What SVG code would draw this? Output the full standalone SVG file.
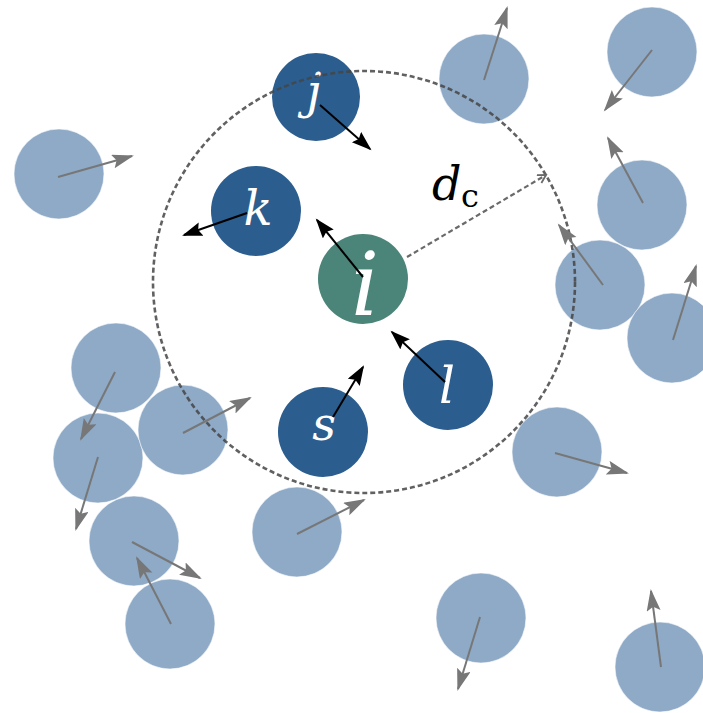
<svg xmlns="http://www.w3.org/2000/svg" width="703" height="713" viewBox="0 0 703 713">
  <style>
    .p { fill: #8eaac7; stroke: #ffffff; stroke-width: 1; stroke-opacity: 0.6; }
    .n { fill: #2b5d8e; }
    .ni { fill: #4b8479; }
    .lbl { fill: #ffffff; font-family: "DejaVu Serif", "Liberation Serif", serif; font-style: italic; text-anchor: middle; }
    .math { fill: #000000; font-family: "DejaVu Serif", "Liberation Serif", serif; }
    .ga { stroke: #777777; stroke-width: 2; fill: none; marker-end: url(#ah-gray); }
    .ka { stroke: #000000; stroke-width: 2; fill: none; marker-end: url(#ah-dark); }
    .cut { fill: none; stroke: #454545; stroke-width: 2.6; stroke-dasharray: 5 3; stroke-opacity: 0.85; }
    .rad { fill: none; stroke: #6a6a6a; stroke-width: 2.2; stroke-dasharray: 5 3; marker-end: url(#ah-open); }
  </style>
  <defs>
    <marker id="ah-dark" markerUnits="userSpaceOnUse" markerWidth="22" markerHeight="16" refX="18" refY="7" orient="auto">
      <path d="M0,0 L20,7 L0,14 L3,7 z" fill="#000000"/>
    </marker>
    <marker id="ah-gray" markerUnits="userSpaceOnUse" markerWidth="24" markerHeight="16" refX="20" refY="7" orient="auto">
      <path d="M0,0 L22,7 L0,14 L4,7 z" fill="#777777"/>
    </marker>
    <marker id="ah-open" markerUnits="userSpaceOnUse" markerWidth="12" markerHeight="12" refX="9" refY="5" orient="auto">
      <path d="M1,0.5 L9,5 L1,9.5" fill="none" stroke="#6a6a6a" stroke-width="1.8"/>
    </marker>
  </defs>

  <g id="particles">
    <g id="p1"><circle class="p" cx="484" cy="79" r="45"/></g>
    <g id="p2"><circle class="p" cx="652" cy="52" r="45"/></g>
    <g id="p3"><circle class="p" cx="642" cy="205" r="45"/></g>
    <g id="p4"><circle class="p" cx="600" cy="285" r="45"/></g>
    <g id="p5"><circle class="p" cx="672" cy="338" r="45"/></g>
    <g id="p6"><circle class="p" cx="59" cy="174" r="45"/></g>
    <g id="p7"><circle class="p" cx="116" cy="368" r="45"/></g>
    <g id="p8"><circle class="p" cx="98" cy="458" r="45"/></g>
    <g id="p9"><circle class="p" cx="183" cy="430" r="45"/></g>
    <g id="p10"><circle class="p" cx="134" cy="541" r="45"/></g>
    <g id="p11"><circle class="p" cx="170" cy="624" r="45"/></g>
    <g id="p12"><circle class="p" cx="297" cy="532" r="45"/></g>
    <g id="p13"><circle class="p" cx="557" cy="452" r="45"/></g>
    <g id="p14"><circle class="p" cx="481" cy="618" r="45"/></g>
    <g id="p15"><circle class="p" cx="660" cy="667" r="45"/></g>
  </g>

  <g id="node-j"><circle class="n" cx="316" cy="97" r="44"/><text class="lbl" x="314" y="108" font-size="48">j</text></g>
  <g id="node-k"><circle class="n" cx="256" cy="211" r="45"/><text class="lbl" x="258" y="225" font-size="48">k</text></g>
  <g id="node-i"><circle class="ni" cx="363" cy="279" r="45"/><text class="lbl" x="365" y="315" font-size="88">i</text></g>
  <g id="node-l"><circle class="n" cx="448" cy="385" r="45"/><text class="lbl" x="447" y="403" font-size="50">l</text></g>
  <g id="node-s"><circle class="n" cx="323" cy="432" r="45"/><text class="lbl" x="324" y="440" font-size="46">s</text></g>

  <g id="cutoff">
    <circle class="cut" cx="364" cy="282" r="211"/>
    <path class="rad" d="M407,257 L546,175"/>
    <text class="math" x="432" y="200" font-style="italic" font-size="46">d</text>
    <text class="math" x="461" y="207" font-size="32">c</text>
  </g>

  <g id="connectors">
    <path class="ga" d="M484,80 L507,8"/>
    <path class="ga" d="M652,50 L605,110"/>
    <path class="ga" d="M643,203 L608,138"/>
    <path class="ga" d="M603,285 L559,225"/>
    <path class="ga" d="M673,340 L696,266"/>
    <path class="ga" d="M58,177 L132,156"/>
    <path class="ga" d="M115,372 L81,439"/>
    <path class="ga" d="M98,457 L76,529"/>
    <path class="ga" d="M183,433 L250,398"/>
    <path class="ga" d="M132,542 L200,578"/>
    <path class="ga" d="M171,624 L137,558"/>
    <path class="ga" d="M297,534 L364,500"/>
    <path class="ga" d="M555,453 L627,473"/>
    <path class="ga" d="M480,617 L458,689"/>
    <path class="ga" d="M661,667 L651,591"/>
    <path class="ka" d="M320,105 L370,149"/>
    <path class="ka" d="M247,213 L184,235"/>
    <path class="ka" d="M363,277 L317,220"/>
    <path class="ka" d="M445,382 L392,332"/>
    <path class="ka" d="M333,417 L363,367"/>
  </g>
</svg>
